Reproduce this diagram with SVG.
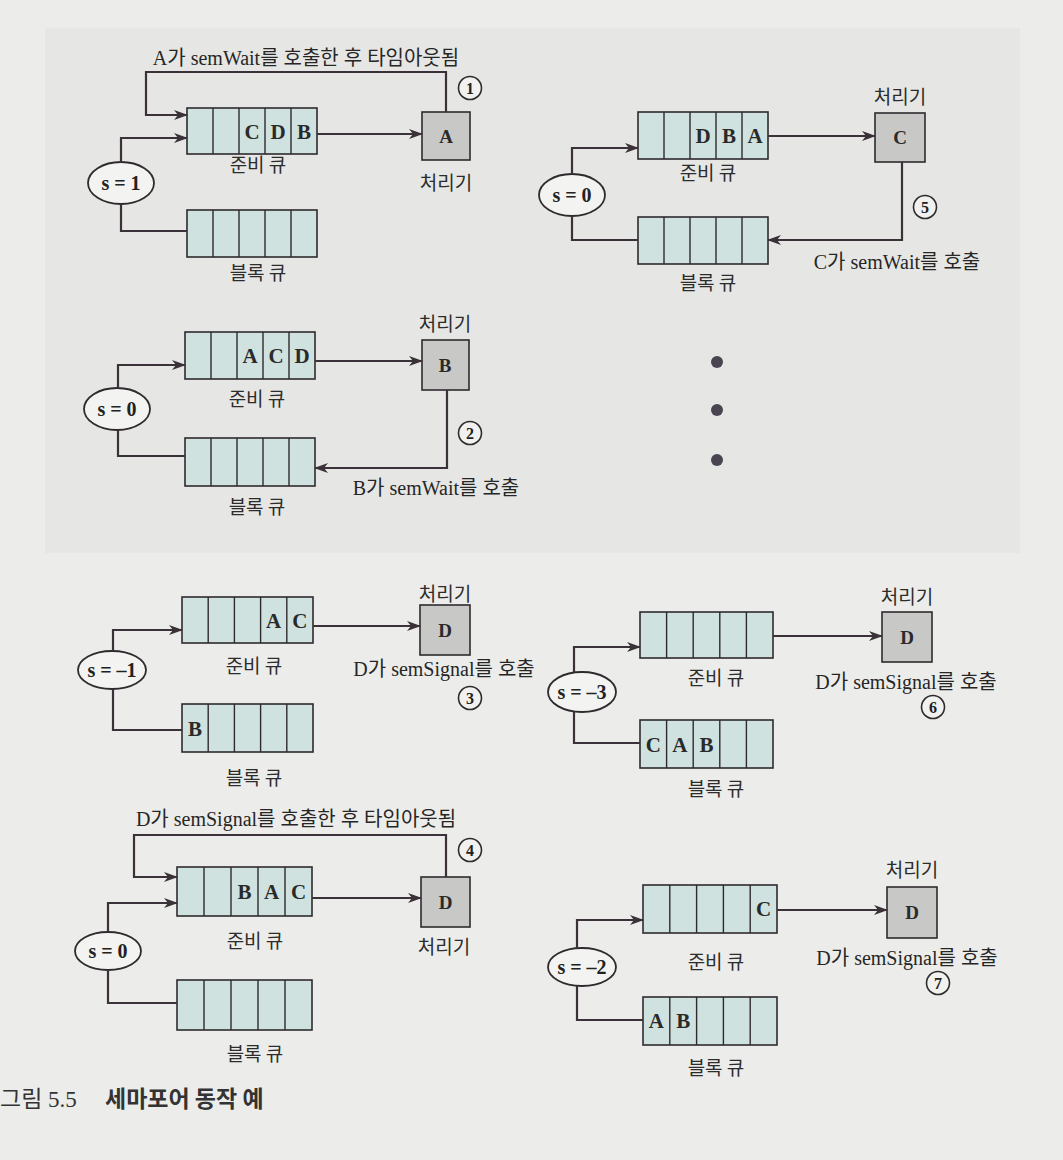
<svg xmlns="http://www.w3.org/2000/svg" width="1063" height="1160" viewBox="0 0 1063 1160">
<style>
.bg{fill:#ecedea}
.q{fill:#cfe2df;stroke:#2f2a2e;stroke-width:1.6}
.dv{fill:none;stroke:#2f2a2e;stroke-width:1.4}
.p{fill:#c8c8c7;stroke:#2f2a2e;stroke-width:1.6}
.el{fill:#f3f3f1;stroke:#2f2a2e;stroke-width:1.8}
.ln{fill:none;stroke:#3a3238;stroke-width:2.2}
.ar{fill:none;stroke:#3a3238;stroke-width:2.2;marker-end:url(#ah)}
.cell{font-family:"Liberation Serif","Noto Sans CJK KR",serif;font-weight:bold;font-size:21px;fill:#2a2a2a;text-anchor:middle}
.pl{font-family:"Liberation Serif","Noto Sans CJK KR",serif;font-weight:bold;font-size:19px;fill:#2a2a2a;text-anchor:middle}
.sv{font-family:"Liberation Serif","Noto Sans CJK KR",serif;font-weight:bold;font-size:20px;fill:#222;text-anchor:middle}
.kl{font-family:"Noto Sans CJK KR","Liberation Sans",sans-serif;font-size:19px;fill:#2c2c2c;text-anchor:middle}
.ml{font-family:"Liberation Serif","Noto Sans CJK KR",serif;font-size:20px;fill:#262626;text-anchor:middle}
.nc{fill:#f1f1ef;stroke:#2f2a2e;stroke-width:1.6}
.nt{font-family:"Liberation Serif",serif;font-weight:bold;font-size:16px;fill:#222;text-anchor:middle}
.dot{fill:#4a4450}
.cap1{font-family:"Liberation Serif","Noto Sans CJK KR",serif;font-size:23px;fill:#333}
.cap2{font-family:"Noto Sans CJK KR","Liberation Sans",sans-serif;font-weight:bold;font-size:23px;fill:#333}
</style>
<defs>
<marker id="ah" viewBox="0 0 14 10" refX="13" refY="5" markerWidth="14" markerHeight="10" markerUnits="userSpaceOnUse" orient="auto">
<path d="M0,0 L14,5 L0,10 L4,5 z" fill="#3a3238"/>
</marker>
</defs>
<rect class="bg" x="0" y="0" width="1063" height="1160"/>
<rect x="45" y="28" width="975" height="525" fill="#e6e7e4"/>

<!-- Panel 1 -->
<g id="p1-ready">
<rect class="q" x="187" y="108" width="130" height="46"/>
<path class="dv" d="M213,108v46M239,108v46M265,108v46M291,108v46"/>
<text class="cell" x="252" y="139">C</text><text class="cell" x="278" y="139">D</text><text class="cell" x="304" y="139">B</text>
<text class="kl" x="258" y="172">준비 큐</text>
</g>
<g id="p1-block">
<rect class="q" x="187" y="210" width="130" height="47"/>
<path class="dv" d="M213,210v47M239,210v47M265,210v47M291,210v47"/>
<text class="kl" x="258" y="280">블록 큐</text>
</g>
<g id="p1-proc">
<rect class="p" x="422" y="112" width="48" height="48"/>
<text class="pl" x="446" y="143">A</text>
<text class="kl" x="446" y="190">처리기</text>
</g>
<g id="p1-sem">
<ellipse class="el" cx="121" cy="183" rx="33" ry="21"/>
<text class="sv" x="121" y="190">s = 1</text>
</g>
<g id="p1-num"><circle class="nc" cx="470" cy="88" r="11.5"/><text class="nt" x="470" y="94">1</text></g>

<!-- Panel 5 -->
<g id="p5-ready">
<rect class="q" x="638" y="112" width="130" height="47"/>
<path class="dv" d="M664,112v47M690,112v47M716,112v47M742,112v47"/>
<text class="cell" x="703" y="143">D</text><text class="cell" x="729" y="143">B</text><text class="cell" x="755" y="143">A</text>
<text class="kl" x="708" y="180">준비 큐</text>
</g>
<g id="p5-block">
<rect class="q" x="638" y="217" width="130" height="47"/>
<path class="dv" d="M664,217v47M690,217v47M716,217v47M742,217v47"/>
<text class="kl" x="708" y="290">블록 큐</text>
</g>
<g id="p5-proc">
<rect class="p" x="875" y="113" width="50" height="49"/>
<text class="pl" x="900" y="144">C</text>
<text class="kl" x="900" y="104">처리기</text>
</g>
<g id="p5-sem">
<ellipse class="el" cx="572" cy="195" rx="33" ry="21"/>
<text class="sv" x="572" y="202">s = 0</text>
</g>
<g id="p5-num"><circle class="nc" cx="925" cy="207" r="11.5"/><text class="nt" x="925" y="213">5</text></g>

<!-- Panel 2 -->
<g id="p2-ready">
<rect class="q" x="185" y="332" width="130" height="47"/>
<path class="dv" d="M211,332v47M237,332v47M263,332v47M289,332v47"/>
<text class="cell" x="250" y="363">A</text><text class="cell" x="276" y="363">C</text><text class="cell" x="302" y="363">D</text>
<text class="kl" x="257" y="406">준비 큐</text>
</g>
<g id="p2-block">
<rect class="q" x="185" y="438" width="130" height="48"/>
<path class="dv" d="M211,438v48M237,438v48M263,438v48M289,438v48"/>
<text class="kl" x="257" y="514">블록 큐</text>
</g>
<g id="p2-proc">
<rect class="p" x="422" y="340" width="47" height="50"/>
<text class="pl" x="445" y="372">B</text>
<text class="kl" x="445" y="331">처리기</text>
</g>
<g id="p2-sem">
<ellipse class="el" cx="117" cy="409" rx="33" ry="21"/>
<text class="sv" x="117" y="416">s = 0</text>
</g>
<g id="p2-num"><circle class="nc" cx="470" cy="433" r="11.5"/><text class="nt" x="470" y="439">2</text></g>

<!-- dots -->
<g id="ellipsis">
<circle class="dot" cx="717" cy="362" r="6"/>
<circle class="dot" cx="717" cy="410" r="6"/>
<circle class="dot" cx="717" cy="460" r="6"/>
</g>

<!-- Panel 3 -->
<g id="p3-ready">
<rect class="q" x="182" y="597" width="131" height="46"/>
<path class="dv" d="M208.2,597v46M234.4,597v46M260.6,597v46M286.8,597v46"/>
<text class="cell" x="273.7" y="628">A</text><text class="cell" x="299.9" y="628">C</text>
<text class="kl" x="254" y="673">준비 큐</text>
</g>
<g id="p3-block">
<rect class="q" x="182" y="704" width="131" height="48"/>
<path class="dv" d="M208.2,704v48M234.4,704v48M260.6,704v48M286.8,704v48"/>
<text class="cell" x="195.1" y="736">B</text>
<text class="kl" x="254" y="785">블록 큐</text>
</g>
<g id="p3-proc">
<rect class="p" x="420" y="605" width="50" height="50"/>
<text class="pl" x="445" y="637">D</text>
<text class="kl" x="445" y="601">처리기</text>
</g>
<g id="p3-sem">
<ellipse class="el" cx="112" cy="670" rx="34" ry="19"/>
<text class="sv" x="112" y="677">s = –1</text>
</g>
<g id="p3-num"><circle class="nc" cx="470" cy="698" r="11.5"/><text class="nt" x="470" y="704">3</text></g>

<!-- Panel 6 -->
<g id="p6-ready">
<rect class="q" x="640" y="612" width="133" height="46"/>
<path class="dv" d="M666.6,612v46M693.2,612v46M719.8,612v46M746.4,612v46"/>
<text class="kl" x="716" y="685">준비 큐</text>
</g>
<g id="p6-block">
<rect class="q" x="640" y="720" width="133" height="48"/>
<path class="dv" d="M666.6,720v48M693.2,720v48M719.8,720v48M746.4,720v48"/>
<text class="cell" x="653.3" y="752">C</text><text class="cell" x="679.9" y="752">A</text><text class="cell" x="706.5" y="752">B</text>
<text class="kl" x="716" y="796">블록 큐</text>
</g>
<g id="p6-proc">
<rect class="p" x="882" y="612" width="50" height="50"/>
<text class="pl" x="907" y="644">D</text>
<text class="kl" x="907" y="604">처리기</text>
</g>
<g id="p6-sem">
<ellipse class="el" cx="582" cy="692" rx="34" ry="20"/>
<text class="sv" x="582" y="699">s = –3</text>
</g>
<g id="p6-num"><circle class="nc" cx="933" cy="707" r="11.5"/><text class="nt" x="933" y="713">6</text></g>

<!-- Panel 4 -->
<g id="p4-ready">
<rect class="q" x="177" y="867" width="135" height="49"/>
<path class="dv" d="M204,867v49M231,867v49M258,867v49M285,867v49"/>
<text class="cell" x="244.5" y="899">B</text><text class="cell" x="271.5" y="899">A</text><text class="cell" x="298.5" y="899">C</text>
<text class="kl" x="255" y="948">준비 큐</text>
</g>
<g id="p4-block">
<rect class="q" x="177" y="980" width="135" height="50"/>
<path class="dv" d="M204,980v50M231,980v50M258,980v50M285,980v50"/>
<text class="kl" x="255" y="1061">블록 큐</text>
</g>
<g id="p4-proc">
<rect class="p" x="421" y="877" width="49" height="50"/>
<text class="pl" x="445.5" y="909">D</text>
<text class="kl" x="444" y="954">처리기</text>
</g>
<g id="p4-sem">
<ellipse class="el" cx="108" cy="951" rx="33" ry="19"/>
<text class="sv" x="108" y="958">s = 0</text>
</g>
<g id="p4-num"><circle class="nc" cx="470" cy="850" r="11.5"/><text class="nt" x="470" y="856">4</text></g>

<!-- Panel 7 -->
<g id="p7-ready">
<rect class="q" x="643" y="885" width="134" height="48"/>
<path class="dv" d="M669.8,885v48M696.6,885v48M723.4,885v48M750.2,885v48"/>
<text class="cell" x="763.6" y="916">C</text>
<text class="kl" x="716" y="969">준비 큐</text>
</g>
<g id="p7-block">
<rect class="q" x="643" y="997" width="134" height="48"/>
<path class="dv" d="M669.8,997v48M696.6,997v48M723.4,997v48M750.2,997v48"/>
<text class="cell" x="656.4" y="1028">A</text><text class="cell" x="683.2" y="1028">B</text>
<text class="kl" x="716" y="1075">블록 큐</text>
</g>
<g id="p7-proc">
<rect class="p" x="887" y="887" width="50" height="51"/>
<text class="pl" x="912" y="919">D</text>
<text class="kl" x="912" y="877">처리기</text>
</g>
<g id="p7-sem">
<ellipse class="el" cx="582" cy="967" rx="34" ry="19"/>
<text class="sv" x="582" y="974">s = –2</text>
</g>
<g id="p7-num"><circle class="nc" cx="938" cy="983" r="11.5"/><text class="nt" x="938" y="989">7</text></g>

<!-- Connectors -->
<g id="connectors">
<path class="ar" d="M446,112V72H146V115H187"/>
<path class="ar" d="M317,134H422"/>
<path class="ar" d="M121,162V138H187"/>
<path class="ln" d="M121,204V231H187"/>
<path class="ar" d="M768,136H875"/>
<path class="ar" d="M902,162V240H768"/>
<path class="ar" d="M572,174V148H638"/>
<path class="ln" d="M572,216V240H638"/>
<path class="ar" d="M315,361H422"/>
<path class="ar" d="M447,390V468H315"/>
<path class="ar" d="M118,388V365H185"/>
<path class="ln" d="M118,430V456H185"/>
<path class="ar" d="M313,626H420"/>
<path class="ar" d="M113,651V630H182"/>
<path class="ln" d="M113,689V730H182"/>
<path class="ar" d="M773,636H882"/>
<path class="ar" d="M574,672V647H640"/>
<path class="ln" d="M574,712V743H640"/>
<path class="ar" d="M446,877V835H134V877H177"/>
<path class="ar" d="M312,898H421"/>
<path class="ar" d="M108,932V903H177"/>
<path class="ln" d="M108,970V1003H177"/>
<path class="ar" d="M777,910H887"/>
<path class="ar" d="M577,948V920H643"/>
<path class="ln" d="M577,986V1020H643"/>
</g>

<g id="connector-labels">
<text class="ml" x="306" y="65">A가 semWait를 호출한 후 타임아웃됨</text>
<text class="ml" x="897" y="269">C가 semWait를 호출</text>
<text class="ml" x="436" y="495">B가 semWait를 호출</text>
<text class="ml" x="444" y="676">D가 semSignal를 호출</text>
<text class="ml" x="906" y="689">D가 semSignal를 호출</text>
<text class="ml" x="296" y="826">D가  semSignal를 호출한 후 타임아웃됨</text>
<text class="ml" x="907" y="965">D가 semSignal를 호출</text>
</g>

<g id="caption">
<text class="cap1" x="0" y="1107">그림 5.5</text>
<text class="cap2" x="105" y="1107">세마포어 동작 예</text>
</g>
</svg>
